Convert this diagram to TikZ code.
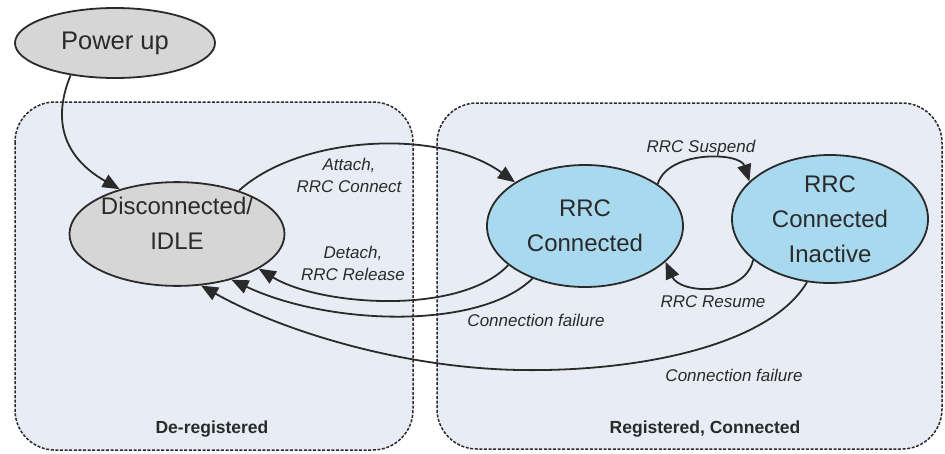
\documentclass[tikz,border=0pt]{standalone}
\usepackage{fontspec}
\setmainfont{Liberation Sans}
\usetikzlibrary{arrows.meta,shapes.geometric}
\definecolor{boxfill}{HTML}{E8EDF5}
\definecolor{grayfill}{HTML}{D6D6D6}
\definecolor{bluefill}{HTML}{A9D9EF}
\definecolor{ink}{HTML}{2A2A2A}
\tikzset{
  region/.style={draw=ink, line width=1.5pt, dash pattern=on 3pt off 1.6pt, fill=boxfill, rounded corners=40pt},
  state/.style={ellipse, draw=ink, line width=1.8pt, inner sep=0pt, align=center,
    font=\fontsize{24}{35}\selectfont, text=ink},
  conn/.style={draw=ink, line width=1.8pt, -{Triangle[length=17pt,width=14pt]}},
  lbl/.style={font=\fontsize{17}{22}\selectfont\itshape, text=ink, align=center},
  regionlbl/.style={font=\fontsize{17.5}{20}\selectfont\bfseries, text=ink}
}
\begin{document}
\begin{tikzpicture}[x=1pt,y=-1pt]
\useasboundingbox (0,0) rectangle (945,453);
\fill[white] (0,0) rectangle (945,453);
% regions
\draw[region] (15,102) rectangle (413,450);
\draw[region] (437,103) rectangle (942,449);
\node[regionlbl] (dereg) at (212,429) {De-registered};
\node[regionlbl] (reg) at (705,429) {Registered, Connected};
% states
\node[state, fill=grayfill, minimum width=200pt, minimum height=70pt, font=\fontsize{25.5}{35}\selectfont] (pu) at (115,43) {Power up};
\node[state, fill=grayfill, minimum width=178pt, minimum height=102pt] (dis) at (177,234) {Disconnected/\\IDLE\\[-14pt]\mbox{}};
\node[state, fill=bluefill, minimum width=196pt, minimum height=122pt] (rc) at (585,226) {RRC\\Connected};
\node[state, fill=bluefill, minimum width=196pt, minimum height=128pt] (ina) at (830,219) {RRC\\Connected\\Inactive};
% connectors
\draw[conn] (pu.216) .. controls (50,125) and (68,160) .. (dis.142);
\draw[conn] (dis.35) .. controls (300,135) and (440,128) .. (rc.148);
\draw[conn] (rc.207) .. controls (460,316) and (320,306) .. (dis.337);
\draw[conn] (rc.225) .. controls (480,330) and (330,326) .. (dis.320);
\draw[conn] (ina.250) .. controls (770,345) and (640,372) .. (520,370) .. controls (400,368) and (280,330) .. (dis.295);
\draw[conn] (rc.30) .. controls (668,150) and (740,152) .. (ina.155);
\draw[conn] (ina.208) .. controls (745,297) and (680,294) .. (rc.336);
% labels
\node[lbl] (lattach) at (349,175) {Attach,\\RRC Connect};
\node[lbl] (ldetach) at (353,263) {Detach,\\RRC Release};
\node[lbl] (lcf1) at (536,320) {Connection failure};
\node[lbl] (lsus) at (701,148) {RRC Suspend};
\node[lbl] (lres) at (713,302) {RRC Resume};
\node[lbl] (lcf2) at (734,375) {Connection failure};
\end{tikzpicture}
\end{document}
